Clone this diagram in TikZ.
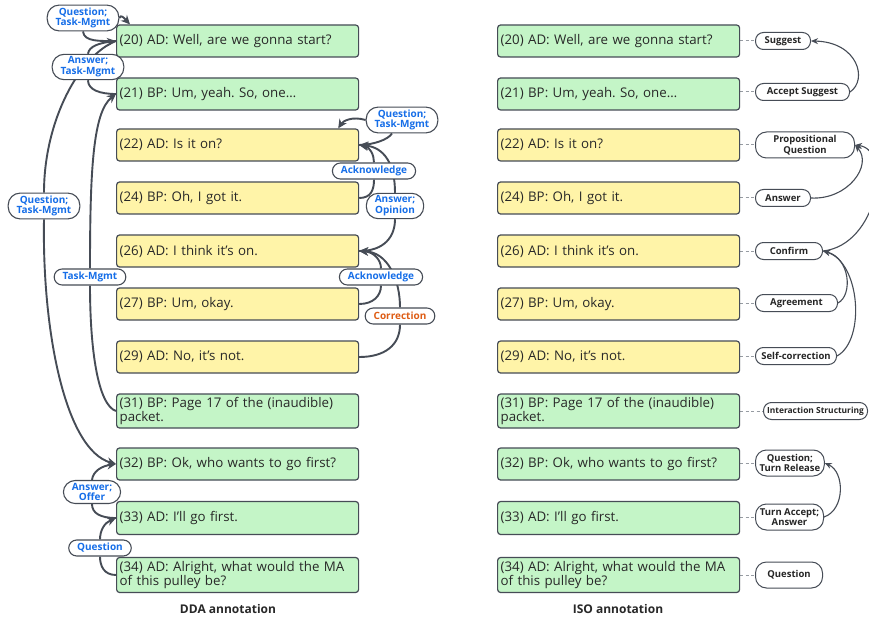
\documentclass[tikz,border=0pt]{standalone}
\usepackage{fontspec}
\setmainfont{Open Sans}
\usetikzlibrary{arrows.meta}
\pgfdeclarelayer{bg}
\pgfsetlayers{bg,main}
\frenchspacing
\definecolor{edge}{RGB}{70,76,86}
\definecolor{gfill}{RGB}{196,245,199}
\definecolor{yfill}{RGB}{255,244,168}
\definecolor{txt}{RGB}{40,40,40}
\definecolor{lblue}{RGB}{22,110,232}
\definecolor{lorange}{RGB}{222,92,20}
\definecolor{dashc}{RGB}{150,155,162}
\tikzset{
  utt/.style={draw=edge, line width=1.2pt, rounded corners=3pt, minimum height=32pt,
    text width=236pt, inner xsep=3pt, inner ysep=2pt, align=left, anchor=west,
    text=txt, font=\fontsize{13.3}{14}\selectfont},
  gbox/.style={utt, fill=gfill},
  ybox/.style={utt, fill=yfill},
  dlab/.style={draw=edge, line width=1.1pt, fill=white, rounded corners=8pt,
    inner xsep=8.5pt, inner ysep=2.5pt, minimum height=16pt, align=center,
    text=lblue, font=\bfseries\fontsize{10}{10.8}\selectfont},
  dlabtwo/.style={dlab, rounded corners=12pt},
  ilab/.style={draw=edge, line width=1pt, fill=white, rounded corners=8pt,
    inner xsep=4pt, inner ysep=2pt, minimum height=17pt, align=center, anchor=west,
    text=black!85, font=\bfseries\fontsize{9.5}{10.5}\selectfont},
  ilabtwo/.style={ilab, rounded corners=11pt, minimum height=26pt},
  arc/.style={draw=edge, line width=1.9pt},
  arr/.style={arc, -{Stealth[length=9pt,width=8.5pt]}},
  iarr/.style={draw=edge, line width=1.1pt, -{Stealth[length=7pt,width=6pt]}},
  isodash/.style={draw=dashc, line width=1pt, dash pattern=on 3pt off 2.5pt},
  ttl/.style={font=\bfseries\fontsize{12}{14}\selectfont, text=txt}
}
\begin{document}
\begin{tikzpicture}[x=1pt,y=-1pt]
\useasboundingbox (0,0) rectangle (869,620);

% ---------- DDA column ----------
\node[gbox] (a20) at (116,41) {(20) AD: Well, are we gonna start?};
\node[gbox] (a21) at (116,94) {(21) BP: Um, yeah. So, one…};
\node[ybox] (a22) at (116,145) {(22) AD: Is it on?};
\node[ybox] (a24) at (116,198) {(24) BP: Oh, I got it.};
\node[ybox] (a26) at (116,251) {(26) AD: I think it’s on.};
\node[ybox] (a27) at (116,304) {(27) BP: Um, okay.};
\node[ybox] (a29) at (116,357) {(29) AD: No, it’s not.};
\node[gbox, minimum height=34pt] (a31) at (116,411) {(31) BP: Page 17 of the (inaudible)\\packet.};
\node[gbox] (a32) at (116,464) {(32) BP: Ok, who wants to go first?};
\node[gbox, minimum height=33pt] (a33) at (116,518) {(33) AD: I’ll go first.};
\node[gbox, minimum height=35pt] (a34) at (116,575) {(34) AD: Alright, what would the MA\\of this pulley be?};

\node[dlabtwo] (L1) at (83,18) {Question;\\Task-Mgmt};
\node[dlabtwo] (L2) at (88,67) {Answer;\\Task-Mgmt};
\node[dlabtwo] (L3) at (44,206) {Question;\\Task-Mgmt};
\node[dlab] (L4) at (90,277) {Task-Mgmt};
\node[dlabtwo] (L5) at (92,492) {Answer;\\Offer};
\node[dlab] (L6) at (100,548) {Question};

\node[dlabtwo] (R1) at (402,120) {Question;\\Task-Mgmt};
\node[dlab] (R2) at (374,171) {Acknowledge};
\node[dlabtwo] (R3) at (395,206) {Answer;\\Opinion};
\node[dlab] (R4) at (381,277) {Acknowledge};
\node[dlab, text=lorange] (R5) at (400,316) {Correction};

% ---------- ISO column ----------
\node[gbox] (b20) at (497,41) {(20) AD: Well, are we gonna start?};
\node[gbox] (b21) at (497,94) {(21) BP: Um, yeah. So, one…};
\node[ybox] (b22) at (497,145) {(22) AD: Is it on?};
\node[ybox] (b24) at (497,198) {(24) BP: Oh, I got it.};
\node[ybox] (b26) at (497,251) {(26) AD: I think it’s on.};
\node[ybox] (b27) at (497,304) {(27) BP: Um, okay.};
\node[ybox] (b29) at (497,357) {(29) AD: No, it’s not.};
\node[gbox, minimum height=34pt] (b31) at (497,411) {(31) BP: Page 17 of the (inaudible)\\packet.};
\node[gbox] (b32) at (497,464) {(32) BP: Ok, who wants to go first?};
\node[gbox, minimum height=33pt] (b33) at (497,518) {(33) AD: I’ll go first.};
\node[gbox, minimum height=35pt] (b34) at (497,575) {(34) AD: Alright, what would the MA\\of this pulley be?};

\node[ilab, minimum width=55pt] (i20) at (755,41) {Suggest};
\node[ilab, minimum width=94pt] (i21) at (755,92) {Accept Suggest};
\node[ilabtwo, minimum width=99pt] (i22) at (755,145) {Propositional\\Question};
\node[ilab, minimum width=55pt] (i24) at (755,198) {Answer};
\node[ilab, minimum width=67pt] (i26) at (755,251) {Confirm};
\node[ilab, minimum width=82pt] (i27) at (755,303) {Agreement};
\node[ilab, minimum width=81pt] (i29) at (755,356) {Self-correction};
\node[ilab, minimum width=104pt, inner xsep=1.5pt, font=\bfseries\fontsize{8.4}{10}\selectfont] (i31) at (763,411) {Interaction Structuring};
\node[ilabtwo, minimum width=68pt] (i32) at (755,463) {Question;\\Turn Release};
\node[ilabtwo, minimum width=68pt] (i33) at (755,517) {Turn Accept;\\Answer};
\node[ilabtwo, minimum width=67pt] (i34) at (755,575) {Question};

\node[ttl] (t1) at (228,609) {DDA annotation};
\node[ttl] (t2) at (618,609) {ISO annotation};

\begin{pgfonlayer}{bg}
\fill[white] (0,0) rectangle (869,620);
% DDA left arcs
\draw[arc] (a20.west) .. controls (100,41) and (84,42) .. (L1.south);
\draw[arr] (L1.east) .. controls (121,14) and (124,18) .. ([xshift=14pt]a20.north west);
\draw[arc] (a21.west) .. controls (100,94) and (88,90) .. (L2.south);
\draw[arr] (L2.north) .. controls (89,46) and (100,43) .. (a20.west);
\draw[arc] (a20.west) .. controls (80,55) and (44,120) .. (L3.north);
\draw[arr] (L3.south) .. controls (42,330) and (65,450) .. (a32.west);
\draw[arc] (a31.west) .. controls (98,405) and (90,350) .. (L4.south);
\draw[arr] (L4.north) .. controls (90,170) and (93,112) .. (a21.west);
\draw[arc] (a33.west) .. controls (100,518) and (92,513) .. (L5.south);
\draw[arr] (L5.north) .. controls (93,471) and (102,466) .. (a32.west);
\draw[arc] (a34.west) .. controls (104,575) and (100,566) .. (L6.south);
\draw[arr] (L6.north) .. controls (100,531) and (104,523) .. (a33.west);
% DDA right arcs
\draw[arc] (a22.east) .. controls (372,145) and (388,140) .. ([xshift=-10pt]R1.south);
\draw[arr] (R1.west) .. controls (352,116) and (343,121) .. ([xshift=-21pt]a22.north east);
\draw[arc] (a24.east) .. controls (371,198) and (374,190) .. (R2.south);
\draw[arr] (R2.north) .. controls (374,155) and (370,147) .. (a22.east);
\draw[arc] (a26.east) .. controls (385,251) and (395,236) .. (R3.south);
\draw[arr] (R3.north) .. controls (395,165) and (385,147) .. (a22.east);
\draw[arc] (a27.east) .. controls (373,304) and (381,296) .. (R4.south);
\draw[arr] (R4.north) .. controls (381,260) and (374,252) .. (a26.east);
\draw[arc] (a29.east) .. controls (385,357) and (400,345) .. (R5.south);
\draw[arr] (R5.north) .. controls (400,280) and (388,252) .. (a26.east);
% ISO dashed links
\foreach \n in {20,21,22,24,26,27,29,31,32,33,34}{
  \draw[isodash] (b\n.east |- i\n.west) -- (i\n.west);
}
% ISO arcs
\draw[iarr] (i21.east) .. controls (868,80) and (858,42) .. (i20.east);
\draw[iarr] (i24.east) .. controls (848,200) and (873,165) .. (i22.east);
\draw[iarr] (i26.east) .. controls (878,245) and (893,150) .. (i22.east);
\draw[iarr] (i27.east) .. controls (853,295) and (850,258) .. (i26.east);
\draw[iarr] (i29.east) .. controls (866,340) and (860,262) .. (i26.east);
\draw[iarr] (i33.east) .. controls (845,510) and (845,472) .. (i32.east);
\end{pgfonlayer}
\end{tikzpicture}
\end{document}
